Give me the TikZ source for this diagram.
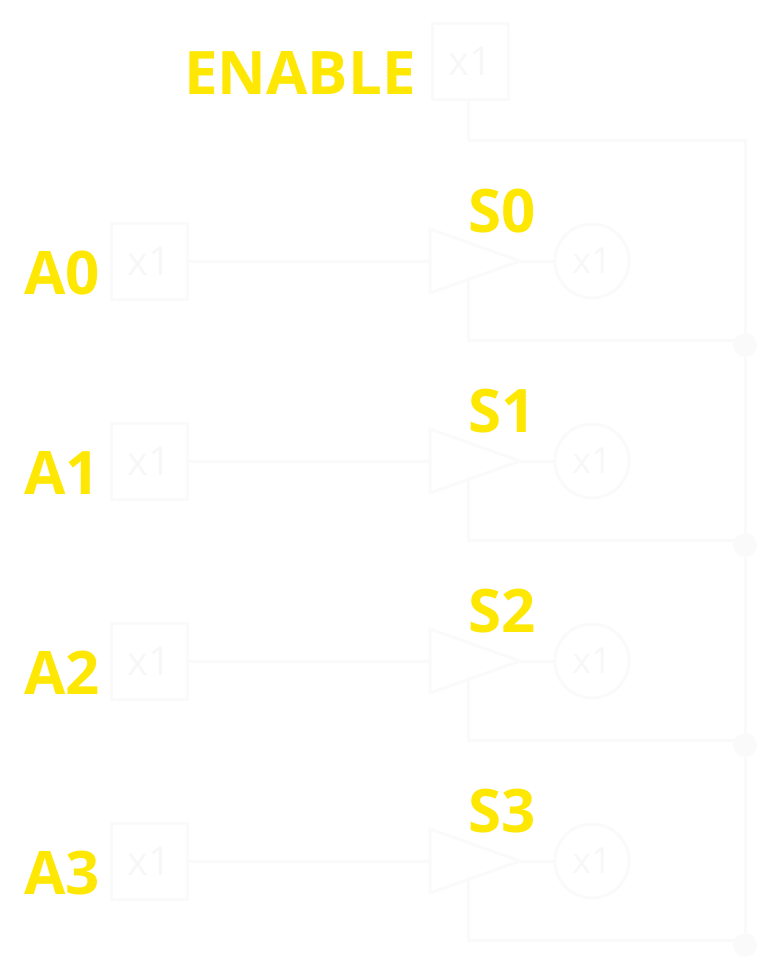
\documentclass[tikz,border=0pt]{standalone}
\usepackage{fontspec}
\setmainfont{Open Sans}
\begin{document}
\begin{tikzpicture}[x=1pt,y=-1pt,
  wire/.style={draw=white!98!black,line width=3pt},
  lbl/.style={text=yellow!90!orange,font=\fontsize{60}{60}\selectfont\bfseries,inner sep=0pt},
  box/.style={wire,minimum width=76pt,minimum height=76pt,inner sep=0pt,text=white!97!black,font=\fontsize{40}{40}\selectfont},
  circ/.style={wire,circle,minimum size=74pt,inner sep=0pt,text=white!97!black,font=\fontsize{36}{36}\selectfont}]
\useasboundingbox (0,0) rectangle (772,964);
\node[box] (en) at (470,61) {x1};
\node[lbl,anchor=east] (enl) at (416,73) {ENABLE};
\coordinate (e1) at (468,140);
\draw[wire] (en.south -| e1) -- (e1);
\foreach \i in {0,1,2,3}{
  \pgfmathsetmacro{\y}{261+200*\i}
  \node[box] (a\i) at (149,\y) {x1};
  \node[lbl,anchor=east] (al\i) at (100,\y+12) {A\i};
  \node[lbl,anchor=west] (sl\i) at (468,\y-50) {S\i};
  \coordinate (t\i a) at (430,\y-32);
  \coordinate (t\i b) at (430,\y+32);
  \coordinate (t\i c) at (520,\y);
  \node[circ] (c\i) at (592,\y) {x1};
  \draw[wire] (a\i) -- (t\i a |- a\i);
  \draw[wire] (t\i a) -- (t\i b) -- (t\i c) -- cycle;
  \draw[wire] (t\i c) -- (c\i);
  \coordinate (r\i a) at (468,\y-121);
  \coordinate (r\i b) at (745,\y+79);
  \draw[wire] (468,\y+16) -- (r\i b -| r\i a) -- (r\i b) -- (r\i b |- r\i a) -- (r\i a);
  \fill[white!98!black] (r\i b) ++(0,5) circle (12pt);
}
\end{tikzpicture}
\end{document}
